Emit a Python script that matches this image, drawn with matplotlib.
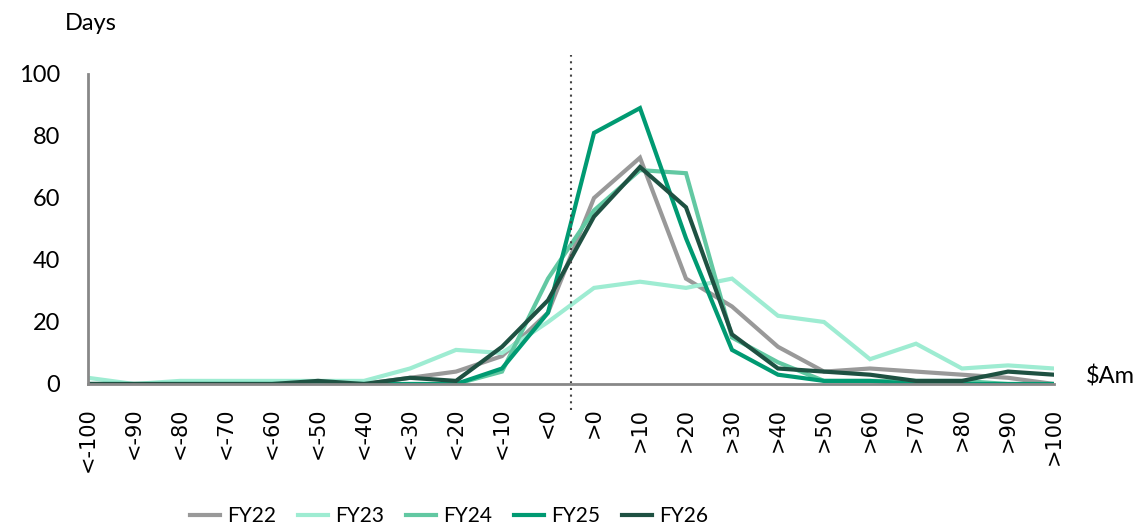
import matplotlib.pyplot as plt

plt.rcParams["font.family"] = ["Lato", "DejaVu Sans"]

# ---------- data ----------
categories = ["<-100", "<-90", "<-80", "<-70", "<-60", "<-50", "<-40", "<-30", "<-20", "<-10", "<0",
              ">0", ">10", ">20", ">30", ">40", ">50", ">60", ">70", ">80", ">90", ">100"]

fy22 = [0, 0, 0, 0, 0, 1, 0, 2, 4, 9, 23, 60, 73, 34, 25, 12, 4, 5, 4, 3, 2, 0]
fy23 = [2, 0, 1, 1, 1, 1, 1, 5, 11, 10, 20, 31, 33, 31, 34, 22, 20, 8, 13, 5, 6, 5]
fy24 = [0, 0, 0, 0, 0, 0, 0, 0, 0, 4, 34, 56, 69, 68, 15, 7, 1, 1, 1, 1, 0, 0]
fy25 = [0, 0, 0, 0, 0, 0, 0, 0, 0, 5, 23, 81, 89, 47, 11, 3, 1, 1, 0, 0, 0, 0]
fy26 = [0, 0, 0, 0, 0, 1, 0, 2, 1, 12, 27, 54, 70, 57, 16, 5, 4, 3, 1, 1, 4, 3]

series = [("FY22", fy22, "#999999"),
          ("FY23", fy23, "#9eecd2"),
          ("FY24", fy24, "#62c8a2"),
          ("FY25", fy25, "#009a72"),
          ("FY26", fy26, "#1e5142")]

# ---------- plot ----------
fig = plt.figure(figsize=(11.39, 5.30), dpi=100)
ax = fig.add_axes([88 / 1139, 1 - 384 / 530, (1054 - 88) / 1139, 310 / 530])

x = list(range(len(categories)))
for name, vals, col in series:
    ax.plot(x, vals, color=col, lw=3, label=name, solid_joinstyle="miter")

# dotted divider between <0 and >0
ax.plot([10.5, 10.5], [-8.4, 106], color="#444444", lw=1.5, ls=(0, (1, 2.2)), clip_on=False)

ax.set_xlim(0, len(categories) - 1)
ax.set_ylim(0, 100)
ax.set_yticks([0, 20, 40, 60, 80, 100])
ax.set_xticks(x)
ax.set_xticklabels(categories, rotation=90, fontsize=15, family="DejaVu Sans")
ax.tick_params(axis="both", length=0)
ax.tick_params(axis="y", labelsize=17, pad=20)
ax.tick_params(axis="x", pad=17)

for s in ["top", "right"]:
    ax.spines[s].set_visible(False)
for s in ["left", "bottom"]:
    ax.spines[s].set_color("#888888")
    ax.spines[s].set_linewidth(2)

fig.text(65 / 1139, 1 - 23 / 530, "Days", fontsize=17, va="center", ha="left")
fig.text(1086 / 1139, 1 - 377 / 530, "$Am", fontsize=17, va="center", ha="left")

fig.legend(loc="center", bbox_to_anchor=(449 / 1139, 1 - 516 / 530), ncol=5, frameon=False,
           fontsize=15, handlelength=1.44, columnspacing=1.05, handletextpad=0.34)

fig.savefig("out.png", dpi=100)
